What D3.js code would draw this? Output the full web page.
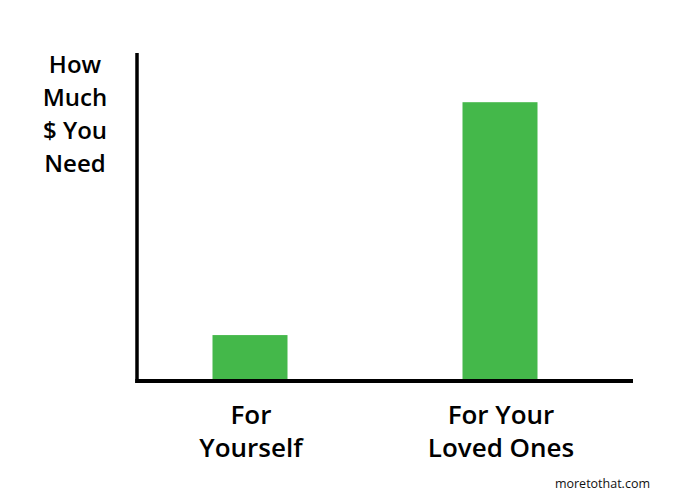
<!DOCTYPE html>
<html>
<head>
<meta charset="utf-8">
<script src="https://cdn.jsdelivr.net/npm/d3@7"></script>
<style>
  html, body { margin: 0; padding: 0; background: #fff; }
  svg { display: block; }
  text { font-family: "Open Sans", Lato, sans-serif; }
</style>
</head>
<body>
<svg id="chart" width="681" height="500"></svg>
<script>
const categories = [["For", "Yourself"], ["For Your", "Loved Ones"]];
const values = [14, 85];
const yTitle = ["How", "Much", "$ You", "Need"];
const credit = "moretothat.com";

const svg = d3.select("#chart");
const green = "#44b84a";

const x = d3.scaleBand()
  .domain(d3.range(categories.length))
  .range([125, 625])
  .paddingInner(0.7)
  .paddingOuter(0.35);

const y = d3.scaleLinear().domain([0, 100]).range([381, 53]);

// bars
svg.append("g").selectAll("rect")
  .data(values)
  .join("rect")
  .attr("x", (d, i) => x(i))
  .attr("width", x.bandwidth())
  .attr("y", d => y(d))
  .attr("height", d => y(0) - y(d))
  .attr("fill", green);

// axes (no ticks)
const yAxis = d3.axisLeft(y).tickValues([]).tickSizeOuter(0);
const gy = svg.append("g").attr("transform", "translate(137,0)").call(yAxis);
gy.select(".domain").attr("stroke", "#000").attr("stroke-width", 3.5)
  .attr("d", `M0,${y(100)}V${y(0) + 2}`);

svg.append("line")
  .attr("x1", 135.25).attr("x2", 633)
  .attr("y1", y(0)).attr("y2", y(0))
  .attr("stroke", "#000").attr("stroke-width", 4);

// y title
svg.append("text")
  .attr("text-anchor", "middle")
  .attr("font-size", 24)
  .attr("font-weight", 600)
  .attr("fill", "#000")
  .selectAll("tspan")
  .data(yTitle)
  .join("tspan")
  .attr("x", 75)
  .attr("y", (d, i) => 73 + i * 33)
  .text(d => d);

// category labels
const lab = svg.append("g").selectAll("text")
  .data(categories)
  .join("text")
  .attr("text-anchor", "middle")
  .attr("font-size", 26)
  .attr("font-weight", 600)
  .attr("fill", "#000");
lab.selectAll("tspan")
  .data((d, i) => d.map(t => ({ t, i })))
  .join("tspan")
  .attr("x", d => x(d.i) + x.bandwidth() / 2 + 1)
  .attr("y", (d, j) => 424 + j * 33)
  .text(d => d.t);

// credit
svg.append("text")
  .attr("x", 650).attr("y", 488)
  .attr("text-anchor", "end")
  .attr("font-size", 12.5)
  .attr("fill", "#111")
  .text(credit);
</script>
</body>
</html>
